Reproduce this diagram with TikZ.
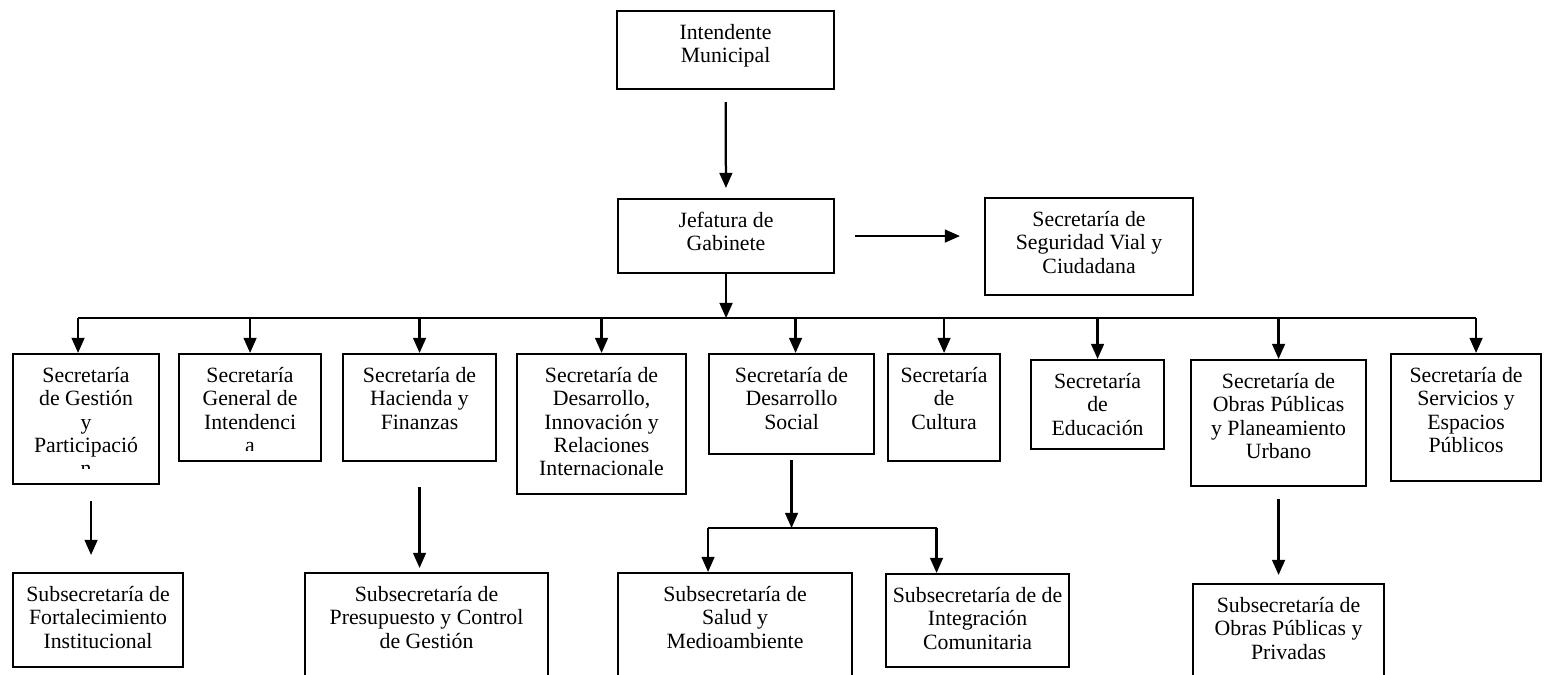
\documentclass[tikz,border=0pt]{standalone}
\usepackage{fontspec}
\setmainfont{Liberation Serif}
\usetikzlibrary{positioning}
\usetikzlibrary{arrows.meta}
\newcommand{\boxfont}{\fontsize{15.5}{16.7}\selectfont}
\tikzset{
	box/.style={draw, line width=1.5pt, inner sep=0pt, anchor=north west},
	boxsize/.style 2 args={minimum width=#1*0.025cm, minimum height=#2*0.025cm},
	txt/.style={align=center, inner sep=0pt, font=\boxfont},
	link/.style={line width=1.6pt},
	arr/.style={link, -{Triangle[length=0.38cm, width=0.32cm]}},
}

\begin{document}
\begin{tikzpicture}[x=0.025cm, y=-0.025cm]
\clip (0,0) rectangle (1545,675);
\fill[white] (0,0) rectangle (1545,675);

% Intendente and Jefatura
\node[box, boxsize={217}{78}] (intendente) at (616,10) {};
\node[txt, below=0.34cm of intendente.north] (intendente-t) {Intendente\\Municipal};
\node[box, boxsize={216}{74}] (jefatura) at (617,198) {};
\node[txt, below=0.34cm of jefatura.north] (jefatura-t) {Jefatura de\\Gabinete};
\node[box, boxsize={208}{97}] (seguridad) at (984,197) {};
\node[txt, below=0.34cm of seguridad.north] (seguridad-t) {Secretaría de\\Seguridad Vial y\\Ciudadana};

\draw[arr, shorten <=0.3cm, shorten >=0.25cm] (intendente) -- (jefatura);
\draw[arr, shorten <=0.5cm, shorten >=0.6cm] (jefatura.east) -- (jefatura.east -| seguridad.west);

% Secretarias
\node[box, boxsize={146}{130}] (gestion) at (12,353) {};
\node[box, boxsize={142}{107}] (intendencia) at (178,353) {};
\node[box, boxsize={153}{107}] (hacienda) at (342,353) {};
\node[txt, below=0.34cm of hacienda.north] (hacienda-t) {Secretaría de\\Hacienda y\\Finanzas};
\node[box, boxsize={169}{140}] (innovacion) at (516,353) {};
\node[txt, below=0.34cm of innovacion.north] (innovacion-t) {Secretaría de\\Desarrollo,\\Innovación y\\Relaciones\\Internacionale};
\node[box, boxsize={165}{100}] (social) at (708,353) {};
\node[txt, below=0.34cm of social.north] (social-t) {Secretaría de\\Desarrollo\\Social};
\node[box, boxsize={112}{107}] (cultura) at (887,353) {};
\node[txt, below=0.34cm of cultura.north] (cultura-t) {Secretaría\\de\\Cultura};
\node[box, boxsize={133}{89}] (educacion) at (1030,359) {};
\node[txt, below=0.34cm of educacion.north] (educacion-t) {Secretaría\\de\\Educación};
\node[box, boxsize={175}{126}] (obras) at (1190,359) {};
\node[txt, below=0.34cm of obras.north] (obras-t) {Secretaría de\\Obras Públicas\\y Planeamiento\\Urbano};
\node[box, boxsize={150}{127}] (servicios) at (1390,353) {};
\node[txt, below=0.34cm of servicios.north] (servicios-t) {Secretaría de\\Servicios y\\Espacios\\Públicos};

% text cut by the box
\begin{scope}
\clip ([yshift=0.42cm]gestion.south west) rectangle (gestion.north east);
\node[txt, below=0.34cm of gestion.north] (gestion-t) {Secretaría\\de Gestión\\y\\Participació\\n};
\end{scope}
\begin{scope}
\clip ([yshift=0.3cm]intendencia.south west) rectangle (intendencia.north east);
\node[txt, below=0.34cm of intendencia.north] (intendencia-t) {Secretaría\\General de\\Intendenci\\a};
\end{scope}

\path (jefatura.south) ++(0,44) coordinate (bus);
\draw[arr] (jefatura.south) -- (bus);
\draw[link] ([xshift=-0.2cm]gestion.north |- bus) -- ([xshift=0.25cm]servicios.north |- bus);
\foreach \n/\dx in {gestion/-0.2,intendencia/0,hacienda/0,innovacion/0,social/0.1,cultura/0,educacion/0,obras/0,servicios/0.25}
	\draw[arr] ([xshift=\dx cm]\n.north |- bus) -- ([xshift=\dx cm]\n.north);

% Subsecretarias
\node[box, boxsize={170}{94}] (fortalecimiento) at (12,572) {};
\node[txt, below=0.34cm of fortalecimiento.north] (fortalecimiento-t) {Subsecretaría de\\Fortalecimiento\\Institucional};
\node[box, boxsize={243}{130}] (presupuesto) at (304,572) {};
\node[txt, below=0.34cm of presupuesto.north] (presupuesto-t) {Subsecretaría de\\Presupuesto y Control\\de Gestión};
\node[box, boxsize={234}{130}] (salud) at (617,572) {};
\node[txt, below=0.34cm of salud.north] (salud-t) {Subsecretaría de\\Salud y\\Medioambiente};
\node[box, boxsize={183}{93}] (integracion) at (885,573) {};
\node[txt, below=0.34cm of integracion.north] (integracion-t) {Subsecretaría de de\\Integración\\Comunitaria};
\node[box, boxsize={191}{130}] (privadas) at (1192,583) {};
\node[txt, below=0.34cm of privadas.north] (privadas-t) {Subsecretaría de\\Obras Públicas y\\Privadas};

\draw[arr, shorten <=0.4cm, shorten >=0.425cm] ([xshift=0.125cm]gestion.south) -- ([xshift=0.125cm]gestion.south |- fortalecimiento.north);
\draw[arr, shorten <=0.625cm, shorten >=0.1cm] (hacienda.south) -- (hacienda.south |- presupuesto.north);
\draw[arr, shorten <=0.3cm, shorten >=0.2cm] (obras.south) -- (obras.south |- privadas.north);

\coordinate (sbus) at (798,528);
\coordinate (saludtop) at ([xshift=-0.675cm]salud.north);
\coordinate (integtop) at ([xshift=-1.025cm]integracion.north);
\draw[arr, shorten <=0.125cm] (social.south) -- (social.south |- sbus);
\draw[link] (saludtop |- sbus) -- (integtop |- sbus);
\draw[arr] (saludtop |- sbus) -- (saludtop);
\draw[arr] (integtop |- sbus) -- (integtop);
\end{tikzpicture}
\end{document}
